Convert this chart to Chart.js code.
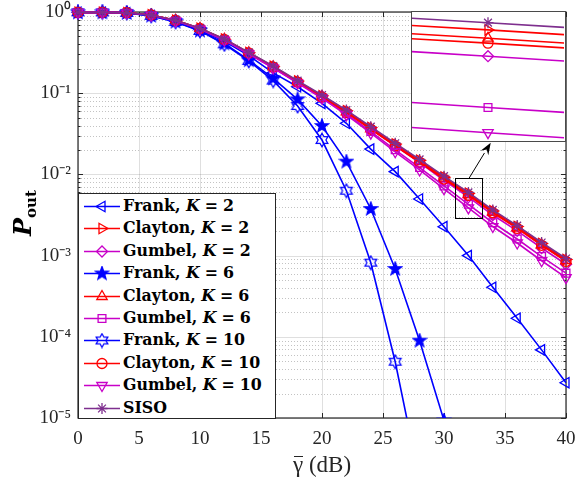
<!DOCTYPE html>
<html>
<head>
<meta charset="utf-8">
<script src="https://cdn.jsdelivr.net/npm/chart.js@4.4.1/dist/chart.umd.min.js"></script>
<style>
  html, body { margin: 0; padding: 0; background: #fff; }
  #wrap { position: relative; width: 576px; height: 478px; overflow: hidden; }
  #main { position: absolute; left: 0; top: 0; }
  #insetBox { position: absolute; left: 411px; top: 11px; width: 155px; height: 131px;
              background: #fff; border: 1.5px solid #4a4a4a; box-sizing: border-box; }
  #inset { position: absolute; left: 0; top: 0; }
  #legend { position: absolute; left: 78px; top: 193px; width: 198px; height: 226px;
            background: #fff; border: 1px solid #262626; box-sizing: border-box;
            font-family: 'DejaVu Serif', serif; font-weight: bold; font-size: 15.8px; color: #000; }
  .item { position: absolute; left: 0; height: 22px; width: 196px; }
  .item canvas { position: absolute; left: 3px; top: 1px; }
  .item .txt { position: absolute; left: 44px; top: 0; line-height: 22px; white-space: nowrap; }
  .item i { font-style: italic; }
  .item .eq { margin: 0 5px; }
  #ytitle { position: absolute; left: -12px; top: 198px; width: 70px; height: 30px; line-height: 30px;
            text-align: center; transform: rotate(-90deg); font-family: 'DejaVu Serif', serif;
            font-weight: bold; font-size: 24px; color: #000; }
  #ytitle sub { font-size: 15px; font-style: normal; vertical-align: -5px; }
  #xtitle { position: absolute; left: 242px; top: 452px; width: 160px; text-align: center;
            font-family: 'Liberation Serif', serif; font-size: 23px; color: #262626; line-height: 26px; }
  #xtitle .g { position: relative; display: inline-block; }
  #xtitle .g::before { content: ''; position: absolute; left: 1px; right: 0px; top: 4px; height: 1.4px; background: #262626; }
</style>
</head>
<body>
<div id="wrap">
  <canvas id="main" width="576" height="478"></canvas>
  <div id="legend"></div>
  <div id="insetBox"><canvas id="inset" width="152" height="128"></canvas></div>
  <div id="ytitle"><i>P</i><sub>out</sub></div>
  <div id="xtitle"><span class="g">γ</span> (dB)</div>
</div>
<script>
// ---------------- data ----------------
const GAMMA_DB = [0, 2, 4, 6, 8, 10, 12, 14, 16, 18, 20, 22, 24, 26, 28, 30, 32, 34, 36, 38, 40];

const FRANK_K2   = [0.99, 0.99, 0.975, 0.905, 0.77, 0.605, 0.435, 0.29, 0.178, 0.12, 0.075, 0.0426, 0.0205, 0.0108, 0.00498, 0.00227, 0.00100, 0.000407, 0.000169, 0.000069, 0.0000272];
const CLAYTON_K2 = [0.99, 0.99, 0.98, 0.92, 0.79, 0.628, 0.463, 0.316, 0.214, 0.141, 0.093, 0.0607, 0.0378, 0.0236, 0.0149, 0.00925, 0.00583, 0.00355, 0.00228, 0.00141, 0.000895];
const GUMBEL_K2  = [0.99, 0.99, 0.98, 0.92, 0.787, 0.623, 0.457, 0.31, 0.207, 0.135, 0.0918, 0.0592, 0.0365, 0.0225, 0.01395, 0.00847, 0.00525, 0.00316, 0.00202, 0.00124, 0.000783];
const FRANK_K6   = [0.99, 0.99, 0.975, 0.90, 0.76, 0.59, 0.41, 0.255, 0.152, 0.084, 0.0394, 0.01435, 0.00375, 0.000684, 0.0000895, 0.0000093, null, null, null, null, null];
const CLAYTON_K6 = [0.99, 0.99, 0.98, 0.92, 0.789, 0.627, 0.461, 0.314, 0.211, 0.138, 0.0905, 0.0588, 0.0365, 0.0228, 0.0144, 0.00895, 0.00564, 0.00343, 0.0022, 0.00136, 0.000865];
const GUMBEL_K6  = [0.99, 0.99, 0.978, 0.915, 0.782, 0.619, 0.453, 0.307, 0.206, 0.135, 0.0886, 0.0559, 0.0337, 0.0201, 0.01215, 0.00721, 0.00428, 0.00254, 0.0016, 0.000973, 0.000608];
const FRANK_K10  = [0.99, 0.99, 0.975, 0.895, 0.755, 0.585, 0.40, 0.25, 0.143, 0.0695, 0.0265, 0.0063, 0.000818, 0.0000493, 0.0000017, null, null, null, null, null, null];
const CLAYTON_K10= [0.99, 0.99, 0.98, 0.92, 0.788, 0.626, 0.46, 0.313, 0.21, 0.137, 0.0895, 0.058, 0.036, 0.0224, 0.0141, 0.00877, 0.00553, 0.00337, 0.00216, 0.00134, 0.000848];
const GUMBEL_K10 = [0.99, 0.99, 0.977, 0.912, 0.778, 0.616, 0.45, 0.304, 0.204, 0.1334, 0.0866, 0.054, 0.0322, 0.019, 0.01134, 0.00665, 0.00387, 0.00228, 0.00143, 0.000864, 0.000535];
const SISO       = [0.99, 0.99, 0.98, 0.92, 0.79, 0.63, 0.465, 0.318, 0.216, 0.143, 0.095, 0.062, 0.0387, 0.0242, 0.0153, 0.0095, 0.0060, 0.00365, 0.00234, 0.00145, 0.00092];

const SERIES_NAMES = ['Frank', 'Clayton', 'Gumbel', 'Frank', 'Clayton', 'Gumbel', 'Frank', 'Clayton', 'Gumbel', 'SISO'];
const SERIES_K     = [2, 2, 2, 6, 6, 6, 10, 10, 10, null];
const SERIES_DATA  = [FRANK_K2, CLAYTON_K2, GUMBEL_K2, FRANK_K6, CLAYTON_K6, GUMBEL_K6, FRANK_K10, CLAYTON_K10, GUMBEL_K10, SISO];

const X_TICKS = [0, 5, 10, 15, 20, 25, 30, 35, 40];
const Y_DECADES = [1e-5, 1e-4, 1e-3, 1e-2, 1e-1, 1];
const Y_TICK_LABELS = ['10⁻⁵', '10⁻⁴', '10⁻³', '10⁻²', '10⁻¹', '10⁰'];

// zoomed region (data coords) and inset axes limits
const ZOOM_X = [30.9, 33.1];
const ZOOM_Y = [0.00288, 0.00895];
const INSET_X = [31.924, 32.076];
const INSET_Y = [0.003759, 0.006261];
const ARROW_FROM = [32.05, 0.00895];
const ARROW_TO = [33.83, 0.02455];

// ---------------- styles ----------------
const BLUE = '#0000ff', RED = '#ff0000', MAG = '#c800c8', PURPLE = '#7e2f8e';

function starCanvas(points, rOut, rIn, color, filled) {
  const s = 16, c = document.createElement('canvas');
  c.width = s; c.height = s;
  const g = c.getContext('2d');
  g.beginPath();
  for (let i = 0; i < points * 2; i++) {
    const r = i % 2 === 0 ? rOut : rIn;
    const a = -Math.PI / 2 + i * Math.PI / points;
    const px = s / 2 + r * Math.cos(a), py = s / 2 + r * Math.sin(a);
    if (i === 0) g.moveTo(px, py); else g.lineTo(px, py);
  }
  g.closePath();
  g.lineWidth = 1.2; g.strokeStyle = color; g.lineJoin = 'miter';
  if (filled) { g.fillStyle = color; g.fill(); }
  g.stroke();
  return c;
}
const PENTAGRAM = starCanvas(5, 7, 2.9, BLUE, true);
const HEXAGRAM = starCanvas(6, 6.8, 3.9, BLUE, false);

const STYLES = [
  { color: BLUE,   pointStyle: 'triangle', rotation: 270, radius: 6 },
  { color: RED,    pointStyle: 'triangle', rotation: 90,  radius: 6 },
  { color: MAG,    pointStyle: 'rectRot',  rotation: 0,   radius: 5.5 },
  { color: BLUE,   pointStyle: PENTAGRAM,  rotation: 0,   radius: 7 },
  { color: RED,    pointStyle: 'triangle', rotation: 0,   radius: 6 },
  { color: MAG,    pointStyle: 'rect',     rotation: 0,   radius: 5.5 },
  { color: BLUE,   pointStyle: HEXAGRAM,   rotation: 0,   radius: 7 },
  { color: RED,    pointStyle: 'circle',   rotation: 0,   radius: 5 },
  { color: MAG,    pointStyle: 'triangle', rotation: 180, radius: 6 },
  { color: PURPLE, pointStyle: 'star',     rotation: 0,   radius: 5.5 }
];

function makeDatasets(clip) {
  return SERIES_DATA.map((arr, i) => {
    const st = STYLES[i];
    return {
      label: SERIES_NAMES[i] + (SERIES_K[i] ? ', K = ' + SERIES_K[i] : ''),
      data: GAMMA_DB.map((x, j) => ({ x: x, y: arr[j] })),
      borderColor: st.color,
      backgroundColor: st.color,
      borderWidth: 1.6,
      pointStyle: st.pointStyle,
      pointRotation: st.rotation,
      pointRadius: st.radius,
      pointHoverRadius: st.radius,
      pointBorderColor: st.color,
      pointBackgroundColor: 'rgba(0,0,0,0)',
      pointBorderWidth: 1.3,
      tension: 0,
      spanGaps: false,
      order: 10 - i,
      clip: clip
    };
  });
}

// ---------------- main chart plugins ----------------
const AXIS_COLOR = '#262626';
const gridPlugin = {
  id: 'matlabGrid',
  beforeDatasetsDraw(chart) {
    const { ctx, chartArea: a, scales: { x, y } } = chart;
    ctx.save();
    // minor horizontal dotted grid
    ctx.strokeStyle = 'rgba(38,38,38,0.28)';
    ctx.lineWidth = 1;
    ctx.setLineDash([1, 2]);
    for (let k = 0; k < Y_DECADES.length - 1; k++) {
      for (let m = 2; m <= 9; m++) {
        const py = Math.round(y.getPixelForValue(Y_DECADES[k] * m)) + 0.5;
        ctx.beginPath(); ctx.moveTo(a.left, py); ctx.lineTo(a.right, py); ctx.stroke();
      }
    }
    ctx.setLineDash([]);
    // major grid
    ctx.strokeStyle = 'rgba(38,38,38,0.15)';
    X_TICKS.forEach(v => {
      const px = Math.round(x.getPixelForValue(v)) + 0.5;
      ctx.beginPath(); ctx.moveTo(px, a.top); ctx.lineTo(px, a.bottom); ctx.stroke();
    });
    Y_DECADES.forEach(v => {
      const py = Math.round(y.getPixelForValue(v)) + 0.5;
      ctx.beginPath(); ctx.moveTo(a.left, py); ctx.lineTo(a.right, py); ctx.stroke();
    });
    // box
    ctx.strokeStyle = AXIS_COLOR;
    ctx.lineWidth = 1.2;
    ctx.strokeRect(a.left, a.top, a.right - a.left, a.bottom - a.top);
    // inward ticks
    ctx.lineWidth = 1;
    X_TICKS.forEach(v => {
      const px = Math.round(x.getPixelForValue(v)) + 0.5;
      ctx.beginPath();
      ctx.moveTo(px, a.bottom); ctx.lineTo(px, a.bottom - 5);
      ctx.moveTo(px, a.top); ctx.lineTo(px, a.top + 5);
      ctx.stroke();
    });
    for (let k = 0; k < Y_DECADES.length; k++) {
      const py = Math.round(y.getPixelForValue(Y_DECADES[k])) + 0.5;
      ctx.beginPath();
      ctx.moveTo(a.left, py); ctx.lineTo(a.left + 5, py);
      ctx.moveTo(a.right, py); ctx.lineTo(a.right - 5, py);
      ctx.stroke();
      if (k < Y_DECADES.length - 1) {
        for (let m = 2; m <= 9; m++) {
          const q = Math.round(y.getPixelForValue(Y_DECADES[k] * m)) + 0.5;
          ctx.beginPath();
          ctx.moveTo(a.left, q); ctx.lineTo(a.left + 2.5, q);
          ctx.moveTo(a.right, q); ctx.lineTo(a.right - 2.5, q);
          ctx.stroke();
        }
      }
    }
    ctx.restore();
  },
  afterDatasetsDraw(chart) {
    const { ctx, scales: { x, y } } = chart;
    ctx.save();
    // zoom rectangle
    const x0 = x.getPixelForValue(ZOOM_X[0]), x1 = x.getPixelForValue(ZOOM_X[1]);
    const y0 = y.getPixelForValue(ZOOM_Y[1]), y1 = y.getPixelForValue(ZOOM_Y[0]);
    ctx.strokeStyle = '#000';
    ctx.lineWidth = 1;
    ctx.strokeRect(Math.round(x0) + 0.5, Math.round(y0) + 0.5, Math.round(x1 - x0), Math.round(y1 - y0));
    // arrow
    const ax0 = x.getPixelForValue(ARROW_FROM[0]), ay0 = y.getPixelForValue(ARROW_FROM[1]);
    const ax1 = x.getPixelForValue(ARROW_TO[0]), ay1 = y.getPixelForValue(ARROW_TO[1]);
    const ang = Math.atan2(ay1 - ay0, ax1 - ax0);
    const hl = 12, hw = 4.5;
    const bx = ax1 - hl * Math.cos(ang), by = ay1 - hl * Math.sin(ang);
    ctx.beginPath(); ctx.moveTo(ax0, ay0); ctx.lineTo(bx, by); ctx.stroke();
    ctx.beginPath();
    ctx.moveTo(ax1, ay1);
    ctx.lineTo(bx + hw * Math.sin(ang), by - hw * Math.cos(ang));
    ctx.lineTo(bx + 0.35 * hl * Math.cos(ang), by + 0.35 * hl * Math.sin(ang));
    ctx.lineTo(bx - hw * Math.sin(ang), by + hw * Math.cos(ang));
    ctx.closePath();
    ctx.fillStyle = '#000';
    ctx.fill();
    ctx.restore();
  }
};

const TICK_FONT = { family: "'Liberation Serif', serif", size: 19 };

new Chart(document.getElementById('main'), {
  type: 'line',
  data: { datasets: makeDatasets({ left: 12, top: 12, right: 12, bottom: 0 }) },
  options: {
    responsive: false,
    animation: false,
    events: [],
    layout: { autoPadding: false, padding: { top: 12, right: 10, left: 0, bottom: 0 } },
    plugins: { legend: { display: false }, tooltip: { enabled: false } },
    scales: {
      x: {
        type: 'linear', min: 0, max: 40,
        afterBuildTicks(s) { s.ticks = X_TICKS.map(v => ({ value: v })); },
        ticks: { font: TICK_FONT, color: AXIS_COLOR, padding: 10, maxRotation: 0, autoSkip: false },
        grid: { display: false, drawTicks: false },
        border: { display: false },
        afterFit(s) { s.height = 60; s.paddingLeft = 0; s.paddingRight = 0; }
      },
      y: {
        type: 'logarithmic', min: 1e-5, max: 1,
        afterBuildTicks(s) { s.ticks = Y_DECADES.map(v => ({ value: v })); },
        ticks: {
          font: TICK_FONT, color: AXIS_COLOR, padding: 7, autoSkip: false,
          callback(v) {
            const i = Y_DECADES.findIndex(d => Math.abs(Math.log10(d) - Math.log10(v)) < 1e-6);
            return i >= 0 ? Y_TICK_LABELS[i] : '';
          }
        },
        grid: { display: false, drawTicks: false },
        border: { display: false },
        afterFit(s) { s.width = 78; s.paddingTop = 0; s.paddingBottom = 0; }
      }
    }
  },
  plugins: [gridPlugin]
});

// ---------------- inset chart ----------------
new Chart(document.getElementById('inset'), {
  type: 'line',
  data: { datasets: makeDatasets(0) },
  options: {
    responsive: false,
    animation: false,
    events: [],
    layout: { autoPadding: false, padding: 0 },
    plugins: { legend: { display: false }, tooltip: { enabled: false } },
    scales: {
      x: { type: 'linear', min: INSET_X[0], max: INSET_X[1], display: false },
      y: { type: 'logarithmic', min: INSET_Y[0], max: INSET_Y[1], display: false }
    }
  }
});

// ---------------- legend (HTML) ----------------
const legend = document.getElementById('legend');
SERIES_DATA.forEach((arr, i) => {
  const st = STYLES[i];
  const item = document.createElement('div');
  item.className = 'item';
  item.style.top = (1 + i * 22.4) + 'px';
  const c = document.createElement('canvas');
  c.width = 40; c.height = 20;
  const g = c.getContext('2d');
  g.strokeStyle = st.color; g.lineWidth = 1.6;
  g.beginPath(); g.moveTo(2, 10.5); g.lineTo(38, 10.5); g.stroke();
  g.fillStyle = 'rgba(0,0,0,0)';
  g.lineWidth = 1.3;
  if (Chart.helpers && Chart.helpers.drawPoint) {
    Chart.helpers.drawPoint(g, { pointStyle: st.pointStyle, rotation: st.rotation, radius: st.radius, borderWidth: 1.3 }, 20, 10.5);
  }
  item.appendChild(c);
  const sp = document.createElement('span');
  sp.className = 'txt';
  sp.innerHTML = SERIES_K[i] ? SERIES_NAMES[i] + ', <i>K</i><span class="eq">=</span>' + SERIES_K[i] : SERIES_NAMES[i];
  item.appendChild(sp);
  legend.appendChild(item);
});
</script>
</body>
</html>
